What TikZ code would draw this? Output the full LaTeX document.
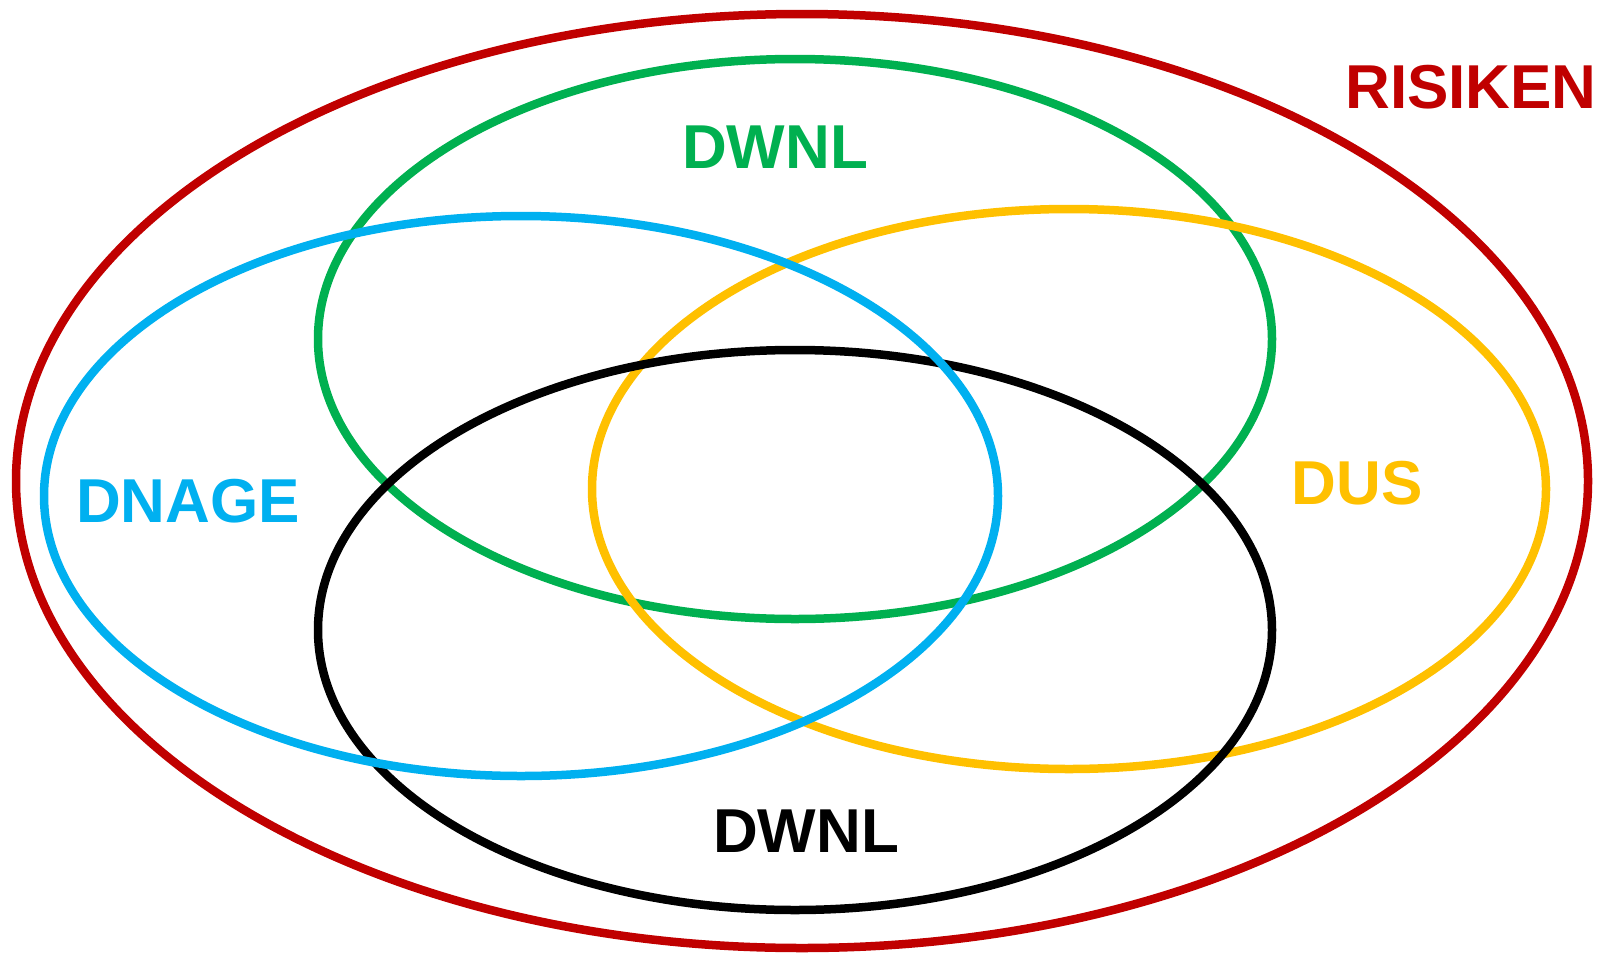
\documentclass[tikz,border=0pt]{standalone}
\usepackage{fontspec}
\setmainfont{Liberation Sans}
\usetikzlibrary{positioning}
\definecolor{riskred}{RGB}{192,0,0}
\definecolor{setgreen}{RGB}{0,176,80}
\definecolor{setblue}{RGB}{0,176,240}
\definecolor{setyellow}{RGB}{255,192,0}
\tikzset{
  ring/.style={line width=8.5pt},
  setlabel/.style={font=\fontsize{62}{62}\selectfont\bfseries, inner sep=0pt},
}
\begin{document}
\begin{tikzpicture}[x=1pt,y=-1pt]
\useasboundingbox (0,0) rectangle (1609,956);
% outer set
\draw[ring, riskred] (802,481) ellipse [x radius=786, y radius=467];
% inner sets
\foreach \cx/\cy/\c in {
  795/339/setgreen,
  1069/489/setyellow,
  795/630/black,
  521/496/setblue}
{
  \draw[ring, \c] (\cx,\cy) ellipse [x radius=477, y radius=280];
}
\node[setlabel, text=riskred] (risiken) at (1471,87) {RISIKEN};
\node[setlabel, text=setgreen] (dwnltop) at (775,147) {DWNL};
\node[setlabel, text=setblue] (dnage) at (188,501) {DNAGE};
\node[setlabel, text=setyellow] (dus) at (1357,483) {DUS};
\node[setlabel, text=black] (dwnlbot) at (806,831) {DWNL};
\end{tikzpicture}
\end{document}
